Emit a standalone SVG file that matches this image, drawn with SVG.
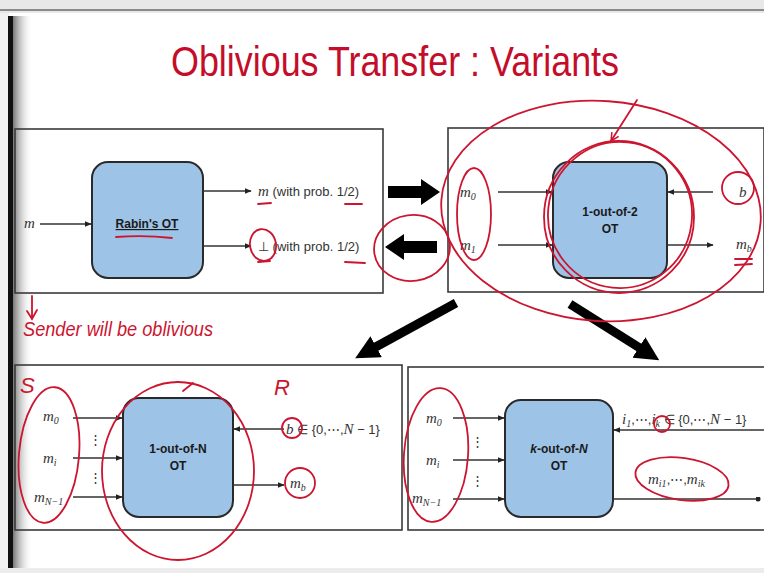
<svg xmlns="http://www.w3.org/2000/svg" width="764" height="573" viewBox="0 0 764 573">
<defs>
<linearGradient id="edge" x1="0" y1="0" x2="1" y2="0">
<stop offset="0" stop-color="#777"/><stop offset="1" stop-color="#fff" stop-opacity="0"/>
</linearGradient>
<marker id="ah" viewBox="0 0 10 10" refX="9" refY="5" markerWidth="7" markerHeight="7" markerUnits="userSpaceOnUse" orient="auto">
<path d="M0,1 L10,5 L0,9 z" fill="#222"/>
</marker>
<marker id="dot" viewBox="0 0 10 10" refX="5" refY="5" markerWidth="5" markerHeight="5" markerUnits="userSpaceOnUse">
<circle cx="5" cy="5" r="5" fill="#222"/>
</marker>
<marker id="big" viewBox="0 0 10 10" refX="2" refY="5" markerWidth="24" markerHeight="24" markerUnits="userSpaceOnUse" orient="auto">
<path d="M0,0 L10,5 L0,10 z" fill="#000"/>
</marker>
<marker id="rah" viewBox="0 0 10 10" refX="9" refY="5" markerWidth="10" markerHeight="10" markerUnits="userSpaceOnUse" orient="auto">
<path d="M1,1 L9,5 L1,9" fill="none" stroke="#cc1530" stroke-width="1.5"/>
</marker>
</defs>
<style>
.frame{fill:none;stroke:#3a3a3a;stroke-width:1.6}
.ot{fill:#9dc3e6;stroke:#2a2a2a;stroke-width:2}
.lbl{font-family:"Liberation Sans",Arial,sans-serif;font-weight:bold;font-size:12px;fill:#1a1a1a;text-anchor:middle}
.math{font-family:"Liberation Serif","Times New Roman",serif;font-style:italic;font-size:15px;fill:#333}
.txt{font-family:"Liberation Sans",Arial,sans-serif;font-size:13px;fill:#333}
.conn{stroke:#333;stroke-width:1.3;fill:none}
.red{fill:none;stroke:#cc1530;stroke-width:1.8;stroke-linecap:round}
.hand{font-family:"Liberation Sans",Arial,sans-serif;font-style:italic;fill:#cc1530}
.sub{font-size:10px}
</style>
<rect width="764" height="573" fill="#fff"/>
<rect x="0" y="0" width="764" height="13" fill="#e8e8e8"/>
<rect x="0" y="9" width="764" height="2" fill="#8a8a8a"/>
<rect x="0" y="13" width="9" height="560" fill="#f2f2f2"/>
<rect x="8" y="16" width="5" height="552" fill="#111"/>
<rect x="13" y="16" width="20" height="552" fill="url(#edge)"/>
<rect x="0" y="568" width="764" height="5" fill="#ececec"/>

<text x="395" y="76" text-anchor="middle" font-family="'Liberation Sans',Arial,sans-serif" font-size="42" fill="#c40d2a" textLength="448" lengthAdjust="spacingAndGlyphs">Oblivious Transfer : Variants</text>

<g id="rabin">
<rect class="frame" x="15" y="129" width="368" height="164"/>
<rect class="ot" x="92" y="162" width="111" height="116" rx="16"/>
<text class="lbl" x="147" y="228" text-decoration="underline">Rabin's OT</text>
<text class="math" x="24" y="228">m</text>
<text x="258" y="196"><tspan class="math">m</tspan><tspan class="txt"> (with prob. 1/2)</tspan></text>
<text x="258" y="251"><tspan class="txt">⊥ (with prob. 1/2)</tspan></text>
</g>

<g id="ot12">
<rect class="frame" x="448" y="128" width="316" height="164"/>
<rect class="ot" x="553" y="162" width="114" height="116" rx="16"/>
<text class="lbl" x="610" y="216">1-out-of-2</text>
<text class="lbl" x="610" y="233">OT</text>
<text class="math" x="460" y="197">m<tspan class="sub" dy="3">0</tspan></text>
<text class="math" x="460" y="250">m<tspan class="sub" dy="3">1</tspan></text>
<text class="math" x="739" y="197">b</text>
<text class="math" x="736" y="249">m<tspan class="sub" dy="3">b</tspan></text>
</g>

<g id="ot1n">
<rect class="frame" x="15" y="365" width="387" height="165"/>
<rect class="ot" x="123" y="398" width="110" height="119" rx="16"/>
<text class="lbl" x="178" y="453">1-out-of-N</text>
<text class="lbl" x="178" y="470">OT</text>
<text class="math" x="43" y="421">m<tspan class="sub" dy="3">0</tspan></text>
<text class="math" x="43" y="463">m<tspan class="sub" dy="3">i</tspan></text>
<text class="math" x="34" y="502">m<tspan class="sub" dy="3">N−1</tspan></text>
<text class="txt" x="95" y="444" text-anchor="middle" font-size="10">⋮</text>
<text class="txt" x="95" y="482" text-anchor="middle" font-size="10">⋮</text>
<text x="286" y="434"><tspan class="math">b</tspan><tspan class="txt" font-size="14"> ∈ {0,⋯,</tspan><tspan class="math">N</tspan><tspan class="txt" font-size="14"> − 1}</tspan></text>
<text class="math" x="290" y="488">m<tspan class="sub" dy="3">b</tspan></text>
</g>

<g id="otkn">
<rect class="frame" x="408" y="367" width="358" height="163"/>
<rect class="ot" x="505" y="400" width="108" height="117" rx="16"/>
<text class="lbl" x="559" y="453"><tspan font-style="italic">k</tspan>-out-of-<tspan font-style="italic">N</tspan></text>
<text class="lbl" x="559" y="470">OT</text>
<text class="math" x="426" y="423">m<tspan class="sub" dy="3">0</tspan></text>
<text class="math" x="426" y="465">m<tspan class="sub" dy="3">i</tspan></text>
<text class="math" x="412" y="503">m<tspan class="sub" dy="3">N−1</tspan></text>
<text class="txt" x="477" y="446" text-anchor="middle" font-size="10">⋮</text>
<text class="txt" x="477" y="485" text-anchor="middle" font-size="10">⋮</text>
<text x="622" y="424"><tspan class="math">i</tspan><tspan class="math sub" dy="3">1</tspan><tspan class="txt" font-size="14" dy="-3">,⋯,</tspan><tspan class="math">i</tspan><tspan class="math sub" dy="3">k</tspan><tspan class="txt" font-size="14" dy="-3"> ∈ {0,⋯,</tspan><tspan class="math">N</tspan><tspan class="txt" font-size="14"> − 1}</tspan></text>
<text x="648" y="484"><tspan class="math">m</tspan><tspan class="math sub" dy="3">i1</tspan><tspan class="txt" dy="-3">,⋯,</tspan><tspan class="math">m</tspan><tspan class="math sub" dy="3">ik</tspan></text>
</g>

<g id="connectors">
<line class="conn" x1="40" y1="224" x2="91" y2="224" marker-end="url(#ah)"/>
<line class="conn" x1="203" y1="191" x2="251" y2="191" marker-end="url(#ah)"/>
<line class="conn" x1="203" y1="246" x2="251" y2="246" marker-end="url(#ah)"/>
<line class="conn" x1="498" y1="192" x2="552" y2="192" marker-end="url(#ah)"/>
<line class="conn" x1="498" y1="245" x2="552" y2="245" marker-end="url(#ah)"/>
<line class="conn" x1="713" y1="192" x2="668" y2="192" marker-end="url(#ah)"/>
<line class="conn" x1="667" y1="245" x2="713" y2="245" marker-end="url(#ah)"/>
<line class="conn" x1="73" y1="418" x2="122" y2="418" marker-end="url(#ah)"/>
<line class="conn" x1="73" y1="458" x2="122" y2="458" marker-end="url(#ah)"/>
<line class="conn" x1="73" y1="497" x2="122" y2="497" marker-end="url(#ah)"/>
<line class="conn" x1="284" y1="429" x2="234" y2="429" marker-end="url(#ah)"/>
<line class="conn" x1="233" y1="485" x2="284" y2="485" marker-end="url(#ah)"/>
<line class="conn" x1="453" y1="418" x2="504" y2="418" marker-end="url(#ah)"/>
<line class="conn" x1="453" y1="460" x2="504" y2="460" marker-end="url(#ah)"/>
<line class="conn" x1="453" y1="499" x2="504" y2="499" marker-end="url(#ah)"/>
<line class="conn" x1="764" y1="430" x2="614" y2="430" marker-end="url(#ah)"/>
<line class="conn" x1="613" y1="499" x2="758" y2="499" marker-end="url(#dot)"/>
<polygon points="388,186 421,186 421,179 440,192 421,205 421,198 388,198" fill="#000"/>
<polygon points="437,241 404,241 404,234 385,247 404,260 404,253 437,253" fill="#000"/>
<line x1="456" y1="303" x2="372" y2="349" stroke="#000" stroke-width="9" marker-end="url(#big)"/>
<line x1="570" y1="304" x2="643" y2="350" stroke="#000" stroke-width="9" marker-end="url(#big)"/>
</g>

<g id="annotations">
<path class="red" d="M116,237 Q145,235 172,238"/>
<path class="red" d="M258,204 L271,203"/>
<path class="red" d="M345,204 L362,204"/>
<ellipse class="red" cx="263" cy="245" rx="13" ry="16" transform="rotate(-10 263 245)"/>
<path class="red" d="M258,262 L270,261"/>
<path class="red" d="M345,262 L365,263"/>
<path class="red" d="M32,296 L32,318 M27,311 L32,319 L37,310"/>
<text class="hand" x="23" y="336" font-size="20" textLength="190" lengthAdjust="spacingAndGlyphs">Sender will be oblivious</text>
<ellipse class="red" cx="412" cy="248" rx="38" ry="33" transform="rotate(-8 412 248)"/>
<ellipse class="red" cx="601" cy="211" rx="160" ry="110" transform="rotate(4 601 211)"/>
<ellipse class="red" cx="474" cy="214" rx="17" ry="46"/>
<ellipse class="red" cx="619" cy="217" rx="75" ry="76"/>
<ellipse class="red" cx="620" cy="215" rx="72" ry="73" transform="rotate(6 620 215)"/>
<path class="red" d="M637,100 L611,141" marker-end="url(#rah)"/>
<circle class="red" cx="738" cy="188" r="16"/>
<path class="red" d="M735,259 L752,259 M735,265 L752,264"/>
<text class="hand" x="20" y="393" font-size="22" font-style="normal">S</text>
<text class="hand" x="274" y="395" font-size="22" font-style="normal">R</text>
<ellipse class="red" cx="49" cy="455" rx="30" ry="68" transform="rotate(5 49 455)"/>
<ellipse class="red" cx="178" cy="471" rx="76" ry="89"/>
<path class="red" d="M183,391 L193,383"/>
<circle class="red" cx="292" cy="428" r="10"/>
<circle class="red" cx="300" cy="483" r="15"/>
<ellipse class="red" cx="436" cy="455" rx="32" ry="67" transform="rotate(4 436 455)"/>
<circle class="red" cx="662" cy="424" r="8"/>
<ellipse class="red" cx="682" cy="479" rx="47" ry="21" transform="rotate(8 682 479)"/>
</g>
</svg>
